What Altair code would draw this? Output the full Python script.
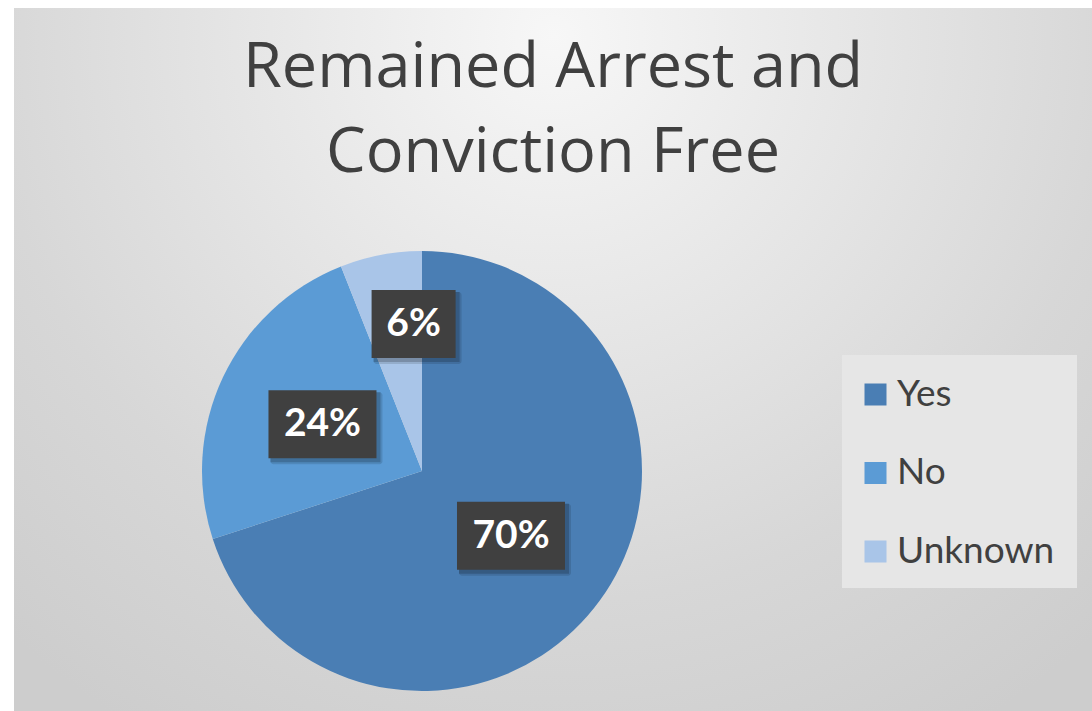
import altair as alt
import pandas as pd
import numpy as np

# ---- data ----
categories = ["Yes", "No", "Unknown"]
shares = [70, 24, 6]
labels = ["70%", "24%", "6%"]
colors = ["#4A7EB4", "#5B9BD5", "#A9C5E8"]
title_lines = ["Remained Arrest and", "Conviction Free"]

# ---- layout constants ----
W, H = 1092, 711
CX, CY, R = 422, 471, 220
FONT = "Lato"

df = pd.DataFrame({"cat": categories, "share": shares, "label": labels,
                   "idx": list(range(len(categories)))})
total = df["share"].sum()
mid = (df["share"].cumsum() - df["share"] / 2) / total * 2 * np.pi
small = (df["share"] / total < 0.1).to_numpy()
lr = np.where(small, 0.68 * R, 0.5 * R)
kx = np.where(small, 0.3, 1.0)  # best-fit nudge toward the centre line for thin slices
df["lx"] = CX + lr * np.sin(mid) * kx
df["ly"] = CY - lr * np.cos(mid)
df["bw"] = df["label"].str.len() * 24 + 36
df["bh"] = 68

base = alt.Chart(df)
one = pd.DataFrame({"a": [0]})

bg = alt.Chart(one).mark_rect(
    fill={
        "gradient": "radial",
        "x1": 0.5, "y1": 0.2, "r1": 0,
        "x2": 0.5, "y2": 0.2, "r2": 0.75,
        "stops": [
            {"offset": 0, "color": "#f7f7f7"},
            {"offset": 0.7, "color": "#d7d7d7"},
            {"offset": 1, "color": "#cdcdcd"},
        ],
    }
).encode(x=alt.value(14), x2=alt.value(W), y=alt.value(8), y2=alt.value(H))

legend_bg = alt.Chart(one).mark_rect(color="#e6e6e6").encode(
    x=alt.value(842), x2=alt.value(1077), y=alt.value(355), y2=alt.value(588)
)

pie = base.mark_arc(outerRadius=R).encode(
    theta=alt.Theta("share:Q", stack=True),
    order=alt.Order("idx:Q"),
    color=alt.Color(
        "cat:N",
        scale=alt.Scale(domain=categories, range=colors),
        sort=categories,
        legend=alt.Legend(
            orient="none", legendX=836, legendY=355, title=None,
            padding=21,
            symbolType="square", symbolSize=484, symbolStrokeWidth=0,
            labelFontSize=37, labelFont=FONT, labelColor="#404040",
            rowPadding=40.5, labelOffset=3, labelLimit=400,
        ),
    ),
    x=alt.value(CX),
    y=alt.value(CY),
)

boxes_calc = base.transform_calculate(
    x1="datum.lx - datum.bw/2", x2="datum.lx + datum.bw/2",
    y1="datum.ly - datum.bh/2", y2="datum.ly + datum.bh/2",
)

shadow1 = boxes_calc.transform_calculate(
    sx1="datum.x1 + 2", sx2="datum.x2 + 6", sy1="datum.y1 + 2", sy2="datum.y2 + 6"
).mark_rect(color="black", opacity=0.12, cornerRadius=3).encode(
    x=alt.X("sx1:Q", scale=None), x2="sx2:Q",
    y=alt.Y("sy1:Q", scale=None), y2="sy2:Q",
)
shadow2 = boxes_calc.transform_calculate(
    sx1="datum.x1 + 2", sx2="datum.x2 + 4", sy1="datum.y1 + 2", sy2="datum.y2 + 4"
).mark_rect(color="black", opacity=0.18).encode(
    x=alt.X("sx1:Q", scale=None), x2="sx2:Q",
    y=alt.Y("sy1:Q", scale=None), y2="sy2:Q",
)

boxes = boxes_calc.mark_rect(color="#404040").encode(
    x=alt.X("x1:Q", scale=None), x2="x2:Q",
    y=alt.Y("y1:Q", scale=None), y2="y2:Q",
)

texts = base.mark_text(font=FONT, fontWeight="bold", fontSize=39, color="white",
                       align="center", baseline="middle").encode(
    x=alt.X("lx:Q", scale=None), y=alt.Y("ly:Q", scale=None), text="label:N"
)

title = alt.Chart(one).mark_text(
    font="Open Sans", fontWeight=400, fontSize=63, color="#404040",
    align="center", baseline="alphabetic", lineHeight=85,
).encode(x=alt.value(553), y=alt.value(87), text=alt.value(title_lines))

chart = alt.layer(bg, legend_bg, pie, shadow1, shadow2, boxes, texts, title).properties(
    width=W, height=H, padding=0, autosize=alt.AutoSizeParams(type="none"),
    background="white",
).configure_view(stroke=None)

chart.save("out.html", embed_options={"renderer": "svg", "actions": False})
